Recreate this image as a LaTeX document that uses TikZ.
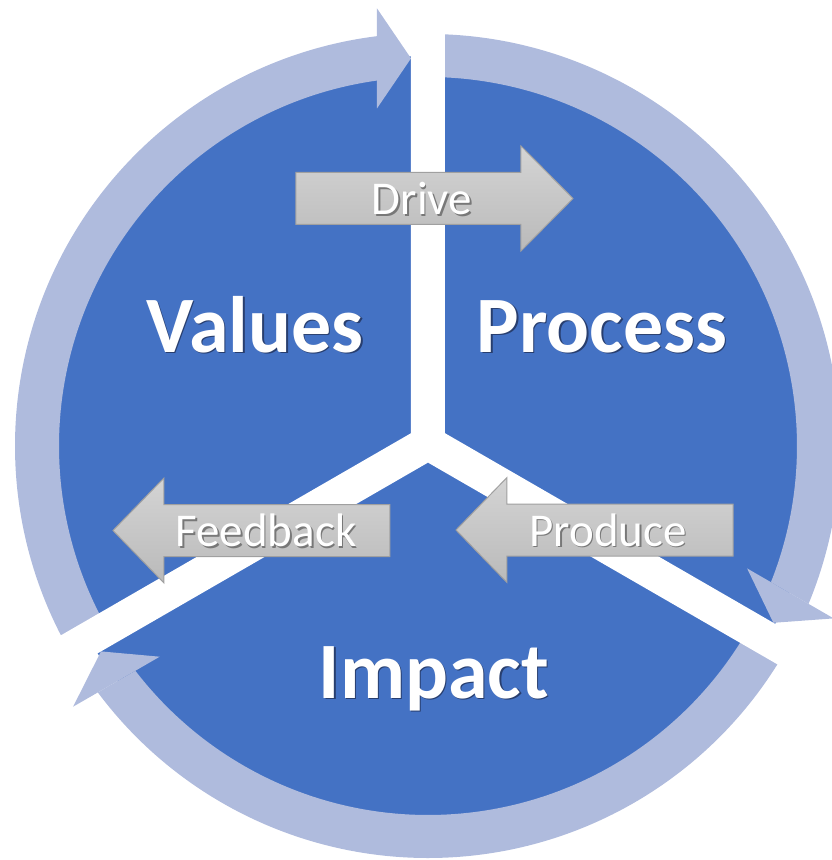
\documentclass[tikz,border=0pt]{standalone}
\usepackage{fontspec}
\setmainfont{Carlito}
\usetikzlibrary{calc}
\definecolor{darkblue}{HTML}{4472C4}
\definecolor{ringblue}{RGB}{175,187,221}
\definecolor{graytop}{RGB}{212,212,212}
\definecolor{graybot}{RGB}{186,186,186}
\definecolor{grayline}{RGB}{160,160,160}
\definecolor{bigsh}{RGB}{40,62,110}
\definecolor{smallsh}{RGB}{120,120,120}
% text with a drop shadow, in one box
\newcommand{\shadowtext}[3]{\makebox[0pt][l]{\hspace{#2}\raisebox{-#2}{\color{#3}#1}}#1}
\tikzset{
  ring/.style={fill=ringblue},
  blockarrow/.style={top color=graytop, bottom color=graybot, draw=grayline, line width=1pt},
  biglabel/.style={font=\fontsize{80}{80}\selectfont\bfseries, text=white, anchor=base, inner sep=0pt},
  smalllabel/.style={font=\fontsize{47}{47}\selectfont, text=white, anchor=base, inner sep=0pt}
}
\begin{document}
\begin{tikzpicture}[x=1pt,y=1pt]
\useasboundingbox (-428,-414) rectangle (404,446);
% centre of circle and junction
\coordinate (O) at (0,0);
\coordinate (C) at (0,3);
\coordinate (ul) at (-17,12.8);
\coordinate (ur) at (17,12.8);
\coordinate (bc) at (0,-16.6);
% dark pie
\fill[darkblue] (O) circle (390);
% Values arrow
\fill[ring] (210:413) arc[start angle=210, end angle=97.11, radius=413]
  -- (97.94:369) arc[start angle=97.94, end angle=210, radius=369] -- cycle;
\fill[ring] (-17,387.6) -- (-51,437.6) -- (-51,337.6) -- cycle;
% Process arrow
\fill[ring] (90:412) arc[start angle=90, end angle=-22.54, radius=412]
  -- (-21.66:369) arc[start angle=-21.66, end angle=90, radius=369] -- cycle;
\fill[ring] (345.4,-176.8) -- (405.7,-172.4) -- (319.1,-122.4) -- cycle;
% Impact arrow
\fill[ring] (-30:412) arc[start angle=-30, end angle=-143.27, radius=412]
  -- (-142.47:369) arc[start angle=-142.47, end angle=-30, radius=369] -- cycle;
\fill[ring] (-327,-205.4) -- (-354.9,-260.7) -- (-268.3,-210.7) -- cycle;
% white separators
\fill[white] (-17,470) -- (ul) -- ($(ul)+(210:560)$) -- ($(bc)+(210:560)$) -- (bc)
  -- ($(bc)+(330:560)$) -- ($(ur)+(330:560)$) -- (ur) -- (17,470) -- cycle;
% block arrows
\draw[blockarrow] (-132,221.5) -- (93,221.5) -- (93,195) -- (145,247.5) -- (93,300) -- (93,273.5) -- (-132,273.5) -- cycle;
\draw[blockarrow] (-38,-110.5) -- (-264,-110.5) -- (-264,-137) -- (-315,-84.5) -- (-264,-32) -- (-264,-58.5) -- (-38,-58.5) -- cycle;
\draw[blockarrow] (305,-110) -- (79,-110) -- (79,-136.5) -- (28,-84) -- (79,-31.5) -- (79,-58) -- (305,-58) -- cycle;
% small labels
\node[smalllabel] (drive) at (-6,231) {\shadowtext{Drive}{1.5pt}{smallsh}};
\node[smalllabel] (feed) at (-162,-100.7) {\shadowtext{Feedback}{1.5pt}{smallsh}};
\node[smalllabel] (prod) at (180,-100) {\shadowtext{Produce}{1.5pt}{smallsh}};
% big labels
\node[biglabel] (values) at (-173,94) {\shadowtext{Values}{1.5pt}{bigsh}};
\node[biglabel] (process) at (174,94) {\shadowtext{Process}{1.5pt}{bigsh}};
\node[biglabel] (impact) at (6,-252) {\shadowtext{Impact}{1.5pt}{bigsh}};
\end{tikzpicture}
\end{document}
